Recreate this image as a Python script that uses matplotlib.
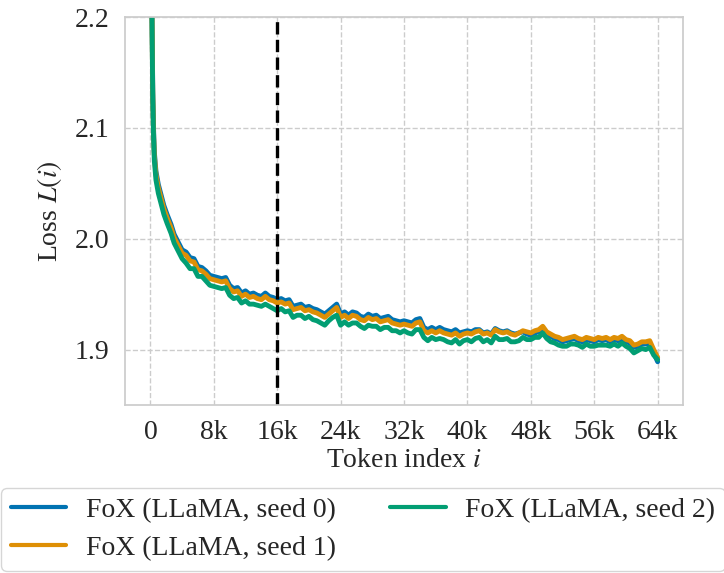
import numpy as np
import matplotlib
matplotlib.use('Agg')
import matplotlib.pyplot as plt
import seaborn as sns

# token positions (thousands)
tokens_early = [0, 0.1, 0.2, 0.3, 0.4, 0.5, 0.7, 1.0, 1.3, 1.7, 2.1, 2.6, 3.0, 3.5, 4.0]
tokens_k = np.concatenate([tokens_early, np.arange(4.5, 64.01, 0.5)])

loss_seed0 = [
    2.71, 2.36, 2.205, 2.134, 2.099, 2.078, 2.061, 2.049, 2.041, 2.030, 2.022, 2.013, 2.004, 1.997, 1.990,
    1.988, 1.983, 1.982, 1.975, 1.974, 1.971, 1.967, 1.966, 1.965, 1.964,
    1.965, 1.958, 1.955, 1.956, 1.951, 1.953, 1.950, 1.951, 1.949, 1.948,
    1.951, 1.948, 1.947, 1.945, 1.946, 1.944, 1.945, 1.939, 1.940, 1.941,
    1.938, 1.939, 1.937, 1.936, 1.934, 1.932, 1.935, 1.938, 1.941, 1.932,
    1.934, 1.931, 1.934, 1.933, 1.930, 1.929, 1.932, 1.930, 1.931, 1.928,
    1.929, 1.930, 1.927, 1.926, 1.925, 1.926, 1.925, 1.924, 1.927, 1.928,
    1.920, 1.918, 1.920, 1.918, 1.920, 1.918, 1.917, 1.916, 1.918, 1.915,
    1.916, 1.917, 1.916, 1.918, 1.918, 1.915, 1.916, 1.914, 1.919, 1.917,
    1.916, 1.917, 1.915, 1.914, 1.915, 1.916, 1.914, 1.913, 1.915, 1.916,
    1.919, 1.914, 1.912, 1.910, 1.909, 1.907, 1.908, 1.909, 1.910, 1.908,
    1.907, 1.909, 1.908, 1.907, 1.909, 1.908, 1.909, 1.907, 1.909, 1.908,
    1.910, 1.907, 1.906, 1.902, 1.903, 1.905, 1.905, 1.906, 1.897, 1.889,
]

loss_seed1 = [
    2.70, 2.35, 2.20, 2.13, 2.095, 2.075, 2.058, 2.046, 2.038, 2.027, 2.019, 2.010, 2.001, 1.994, 1.987,
    1.985, 1.980, 1.979, 1.972, 1.971, 1.968, 1.964, 1.963, 1.962, 1.961,
    1.962, 1.955, 1.952, 1.953, 1.948, 1.950, 1.947, 1.948, 1.946, 1.945,
    1.948, 1.945, 1.944, 1.942, 1.943, 1.941, 1.942, 1.936, 1.937, 1.938,
    1.935, 1.936, 1.934, 1.933, 1.931, 1.929, 1.932, 1.935, 1.938, 1.929,
    1.931, 1.928, 1.931, 1.930, 1.927, 1.926, 1.929, 1.927, 1.928, 1.925,
    1.926, 1.927, 1.924, 1.923, 1.922, 1.923, 1.922, 1.921, 1.924, 1.925,
    1.917, 1.915, 1.917, 1.915, 1.917, 1.915, 1.914, 1.913, 1.915, 1.912,
    1.914, 1.915, 1.914, 1.916, 1.917, 1.914, 1.915, 1.913, 1.918, 1.916,
    1.915, 1.916, 1.914, 1.913, 1.915, 1.917, 1.916, 1.915, 1.917, 1.918,
    1.921, 1.916, 1.914, 1.912, 1.911, 1.909, 1.910, 1.911, 1.912, 1.910,
    1.909, 1.911, 1.910, 1.909, 1.911, 1.910, 1.911, 1.909, 1.911, 1.910,
    1.912, 1.909, 1.908, 1.904, 1.905, 1.907, 1.907, 1.908, 1.900, 1.893,
]

loss_seed2 = [
    2.69, 2.34, 2.195, 2.126, 2.091, 2.070, 2.053, 2.041, 2.033, 2.022, 2.014, 2.005, 1.996, 1.989, 1.982,
    1.978, 1.973, 1.973, 1.966, 1.966, 1.962, 1.958, 1.957, 1.956, 1.955,
    1.956, 1.949, 1.946, 1.947, 1.942, 1.944, 1.941, 1.941, 1.940, 1.939,
    1.941, 1.939, 1.937, 1.935, 1.937, 1.934, 1.935, 1.929, 1.931, 1.931,
    1.928, 1.930, 1.927, 1.926, 1.924, 1.922, 1.926, 1.929, 1.931, 1.922,
    1.925, 1.922, 1.924, 1.924, 1.921, 1.919, 1.922, 1.921, 1.921, 1.918,
    1.920, 1.920, 1.917, 1.917, 1.915, 1.917, 1.915, 1.914, 1.918, 1.918,
    1.911, 1.908, 1.911, 1.909, 1.910, 1.909, 1.907, 1.906, 1.909, 1.905,
    1.908, 1.909, 1.907, 1.910, 1.911, 1.907, 1.909, 1.906, 1.912, 1.909,
    1.909, 1.910, 1.907, 1.907, 1.908, 1.911, 1.909, 1.909, 1.911, 1.911,
    1.915, 1.910, 1.907, 1.906, 1.904, 1.903, 1.903, 1.905, 1.905, 1.904,
    1.902, 1.905, 1.903, 1.903, 1.904, 1.904, 1.904, 1.903, 1.905, 1.903,
    1.906, 1.903, 1.901, 1.897, 1.899, 1.901, 1.900, 1.902, 1.895, 1.891,
]

series_labels = ['FoX (LLaMA, seed 0)', 'FoX (LLaMA, seed 1)', 'FoX (LLaMA, seed 2)']
x_ticks = [0, 8000, 16000, 24000, 32000, 40000, 48000, 56000, 64000]
x_tick_labels = ['0', '8k', '16k', '24k', '32k', '40k', '48k', '56k', '64k']
y_ticks = [1.9, 2.0, 2.1, 2.2]
marker_token = 16000

sns.set_theme(style='whitegrid', rc={'grid.linestyle': '--'})
plt.rcParams['font.family'] = ['Liberation Serif', 'DejaVu Serif']
plt.rcParams['mathtext.fontset'] = 'stix'

colors = sns.color_palette('colorblind')

fig = plt.figure(figsize=(7.24, 5.73), dpi=100)
ax = fig.add_axes([0.1727, 0.2932, 0.7707, 0.6771])

tokens = tokens_k * 1000
for vals, lab, c in zip([loss_seed0, loss_seed1, loss_seed2], series_labels, colors[:3]):
    ax.plot(tokens, vals, color=c, linewidth=3.5, label=lab)

ax.axvline(marker_token, color='black', linestyle='--', linewidth=2.4)

ax.set_ylim(1.85, 2.2)
ax.set_xticks(x_ticks)
ax.set_xticklabels(x_tick_labels)
ax.set_yticks(y_ticks)
ax.set_yticklabels([f'{v:.1f}' for v in y_ticks])
ax.tick_params(labelsize=20, pad=5)
ax.set_xlabel('Token index $i$', fontsize=20, labelpad=2)
ax.set_ylabel('Loss $L(i)$', fontsize=20, labelpad=8)

leg = ax.legend(loc='upper center', bbox_to_anchor=(0.4265, -0.214), ncol=2, fontsize=20,
                handlelength=2.0, handletextpad=0.7, columnspacing=1.95,
                borderpad=0.35, labelspacing=0.45, frameon=True, borderaxespad=0)
for line in leg.get_lines():
    line.set_linewidth(3.0)

fig.savefig('out.png', dpi=100)
